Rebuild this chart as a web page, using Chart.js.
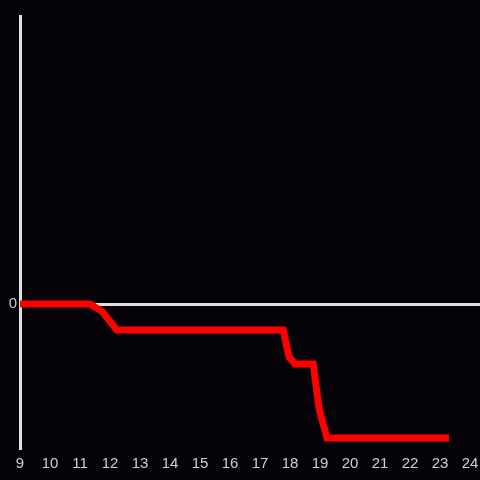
<!DOCTYPE html>
<html>
<head>
<meta charset="utf-8">
<script src="https://cdn.jsdelivr.net/npm/chart.js@4"></script>
<style>
  html, body { margin: 0; padding: 0; background: #050307; }
  #wrap { width: 480px; height: 480px; }
</style>
</head>
<body>
<div id="wrap"><canvas id="chart" width="480" height="480"></canvas></div>
<script>
const hours = [9, 11.33, 11.73, 12.23, 17.77, 17.97, 18.17, 18.77, 18.97, 19.23, 23.3];
const values = [0, 0, -0.25, -0.9, -0.9, -1.85, -2.08, -2.08, -3.65, -4.65, -4.65];
const xTicks = [9, 10, 11, 12, 13, 14, 15, 16, 17, 18, 19, 20, 21, 22, 23, 24];

const tickFont = { family: "'Liberation Sans', Arial, sans-serif", size: 15 };

const ctx = document.getElementById("chart").getContext("2d");
new Chart(ctx, {
    type: 'line',
    data: {
        datasets: [{
            data: hours.map((x, i) => ({ x, y: values[i] })),
            borderColor: '#ff0000',
            borderWidth: 7,
            pointRadius: 0,
            tension: 0,
            fill: false
        }]
    },
    options: {
        responsive: false,
        animation: false,
        layout: { padding: { top: 16, right: 0, left: 0, bottom: 0 } },
        plugins: { legend: { display: false }, tooltip: { enabled: false } },
        scales: {
            x: {
                type: 'linear',
                min: 9,
                max: 24.33,
                afterBuildTicks: axis => { axis.ticks = xTicks.map(v => ({ value: v })); },
                afterFit: axis => { axis.height = 32; axis.paddingRight = 0; },
                grid: { display: false },
                border: { display: false },
                ticks: { color: '#d0d0d0', font: tickFont, padding: -1, maxRotation: 0, autoSkip: false }
            },
            y: {
                min: -5,
                max: 10,
                afterBuildTicks: axis => { axis.ticks = [{ value: 0 }]; },
                afterFit: axis => { axis.width = 20; },
                grid: {
                    color: c => c.tick.value === 0 ? '#e0e0e0' : 'transparent',
                    lineWidth: 3,
                    drawTicks: false
                },
                border: { display: true, color: '#e0e0e0', width: 3 },
                ticks: { color: '#d0d0d0', font: tickFont, padding: 3 }
            }
        }
    }
});
</script>
</body>
</html>
